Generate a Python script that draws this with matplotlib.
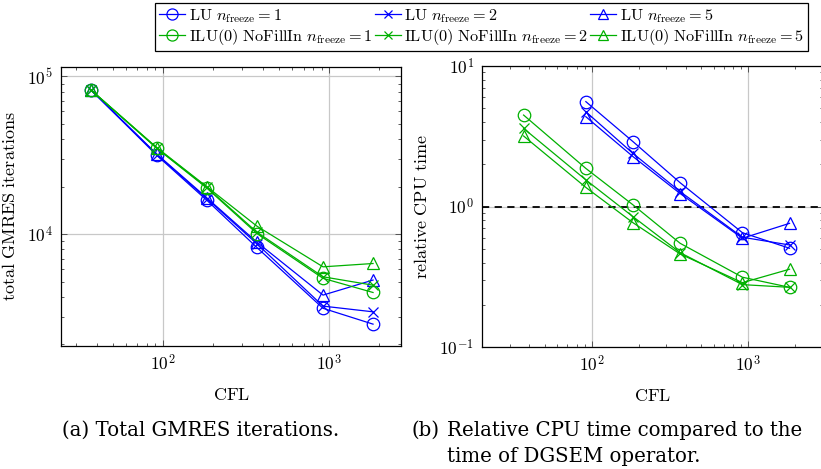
import math
import matplotlib
matplotlib.use("Agg")
import matplotlib.pyplot as plt
from matplotlib.ticker import LogLocator, FuncFormatter, NullFormatter
from matplotlib.lines import Line2D

plt.rcParams['mathtext.fontset'] = 'cm'
plt.rcParams['font.family'] = ['DejaVu Serif']

# ---------------- data ----------------
cfl = [36.7, 91.7, 183.4, 366.8, 917, 1834]
cfl_lu = [91.7, 183.4, 366.8, 917, 1834]

# (a) total GMRES iterations
gm_lu1 = [82400, 31600, 16400, 8240, 3390, 2690]
gm_lu2 = [82400, 32000, 16800, 8700, 3500, 3220]
gm_lu5 = [82400, 32200, 17000, 8900, 4110, 5120]
gm_ilu1 = [82400, 35000, 19600, 10100, 5250, 4270]
gm_ilu2 = [82400, 35200, 19800, 10300, 5370, 4750]
gm_ilu5 = [82400, 35400, 20000, 11250, 6210, 6520]

# (b) relative CPU time
cpu_lu1 = [5.58, 2.90, 1.48, 0.653, 0.506]
cpu_lu2 = [4.73, 2.39, 1.28, 0.606, 0.534]
cpu_lu5 = [4.36, 2.27, 1.24, 0.596, 0.761]
cpu_ilu1 = [4.48, 1.87, 1.03, 0.549, 0.315, 0.267]
cpu_ilu2 = [3.60, 1.55, 0.849, 0.471, 0.279, 0.267]
cpu_ilu5 = [3.18, 1.37, 0.769, 0.461, 0.288, 0.359]

labels = [r'$\mathrm{LU}\ n_{\mathrm{freeze}} = 1$',
          r'$\mathrm{LU}\ n_{\mathrm{freeze}} = 2$',
          r'$\mathrm{LU}\ n_{\mathrm{freeze}} = 5$',
          r'$\mathrm{ILU(0)\ NoFillIn}\ n_{\mathrm{freeze}} = 1$',
          r'$\mathrm{ILU(0)\ NoFillIn}\ n_{\mathrm{freeze}} = 2$',
          r'$\mathrm{ILU(0)\ NoFillIn}\ n_{\mathrm{freeze}} = 5$']

BLUE = '#0000ff'
GREEN = '#00b000'
markers = ['o', 'x', '^']
msizes = [9, 7, 8]

W, H = 821, 469
fig = plt.figure(figsize=(W / 100, H / 100), dpi=100)


def px_axes(x0, y0, x1, y1):
    return fig.add_axes([x0 / W, 1 - y1 / H, (x1 - x0) / W, (y1 - y0) / H])


def style(ax):
    ax.set_xscale('log')
    ax.set_yscale('log')
    ax.grid(True, which='major', color='#c8c8c8', linewidth=0.9, zorder=0)
    ax.tick_params(which='both', direction='in', top=True, right=True,
                   labelsize=12.5, color='#404040')
    ax.tick_params(which='major', length=4.5, width=0.6, pad=6)
    ax.tick_params(which='minor', length=2.5, width=0.6)
    fmt = FuncFormatter(lambda v, p: r'$10^{%d}$' % round(math.log10(v)))
    ax.xaxis.set_major_formatter(fmt)
    ax.yaxis.set_major_formatter(fmt)
    ax.xaxis.set_minor_formatter(NullFormatter())
    ax.yaxis.set_minor_formatter(NullFormatter())
    ax.xaxis.set_minor_locator(LogLocator(base=10, subs=range(2, 10), numticks=20))
    ax.yaxis.set_minor_locator(LogLocator(base=10, subs=range(2, 10), numticks=20))
    for s in ax.spines.values():
        s.set_linewidth(0.9)
    ax.set_xlabel(r'$\mathrm{CFL}$', fontsize=13, labelpad=8)


def plot_series(ax, x, y, color, m, ms):
    ax.plot(x, y, color=color, marker=m, markersize=ms, markerfacecolor='none',
            markeredgecolor=color, markeredgewidth=0.9, linewidth=0.9, zorder=3)


# ---------- (a) ----------
ax1 = px_axes(61.3, 66.5, 401.3, 346)
style(ax1)
for y, m, ms in zip([gm_lu1, gm_lu2, gm_lu5], markers, msizes):
    plot_series(ax1, cfl, y, BLUE, m, ms)
for y, m, ms in zip([gm_ilu1, gm_ilu2, gm_ilu5], markers, msizes):
    plot_series(ax1, cfl, y, GREEN, m, ms)
ax1.set_xlim(24.4, 2713)
ax1.set_ylim(1955, 115700)
ax1.set_ylabel(r'$\mathrm{total\ GMRES\ iterations}$', fontsize=13, labelpad=6)

# ---------- (b) ----------
ax2 = px_axes(482.3, 66, 823, 347.3)
style(ax2)
ax2.axhline(1.0, color='black', linestyle=(0, (4, 3)), linewidth=1.3, zorder=2)
for y, m, ms in zip([cpu_lu1, cpu_lu2, cpu_lu5], markers, msizes):
    plot_series(ax2, cfl_lu, y, BLUE, m, ms)
for y, m, ms in zip([cpu_ilu1, cpu_ilu2, cpu_ilu5], markers, msizes):
    plot_series(ax2, cfl, y, GREEN, m, ms)
ax2.set_xlim(20, 3000)
ax2.set_ylim(0.1, 10)
ax2.set_ylabel(r'$\mathrm{relative\ CPU\ time}$', fontsize=13, labelpad=6)

# ---------- legend ----------
handles = []
for c in [BLUE, GREEN]:
    for m, ms in zip(markers, msizes):
        handles.append(Line2D([], [], color=c, marker=m, markersize=ms - 1,
                              markerfacecolor='none', markeredgecolor=c,
                              markeredgewidth=0.9, linewidth=0.9))
order = [0, 3, 1, 4, 2, 5]
leg = fig.legend([handles[i] for i in order], [labels[i] for i in order],
                 ncol=3, loc='upper center', bbox_to_anchor=(481.5 / W, 1 - 3 / H),
                 fontsize=11.7, frameon=True, fancybox=False, edgecolor='black',
                 framealpha=1, handlelength=1.6, handletextpad=0.2,
                 columnspacing=0.15, borderpad=0.25, labelspacing=0.12,
                 borderaxespad=0)
leg.get_frame().set_linewidth(0.9)

# ---------- captions ----------
cap = dict(fontsize=14.2, va='baseline', family='DejaVu Serif')
fig.text(62 / W, 1 - 436 / H, '(a) Total GMRES iterations.', ha='left', **cap)
fig.text(411 / W, 1 - 436 / H, '(b)', ha='left', **cap)
fig.text(447 / W, 1 - 436 / H, 'Relative CPU time compared to the', ha='left', **cap)
fig.text(447 / W, 1 - 462 / H, 'time of DGSEM operator.', ha='left', **cap)

fig.savefig('out.png', dpi=100)
